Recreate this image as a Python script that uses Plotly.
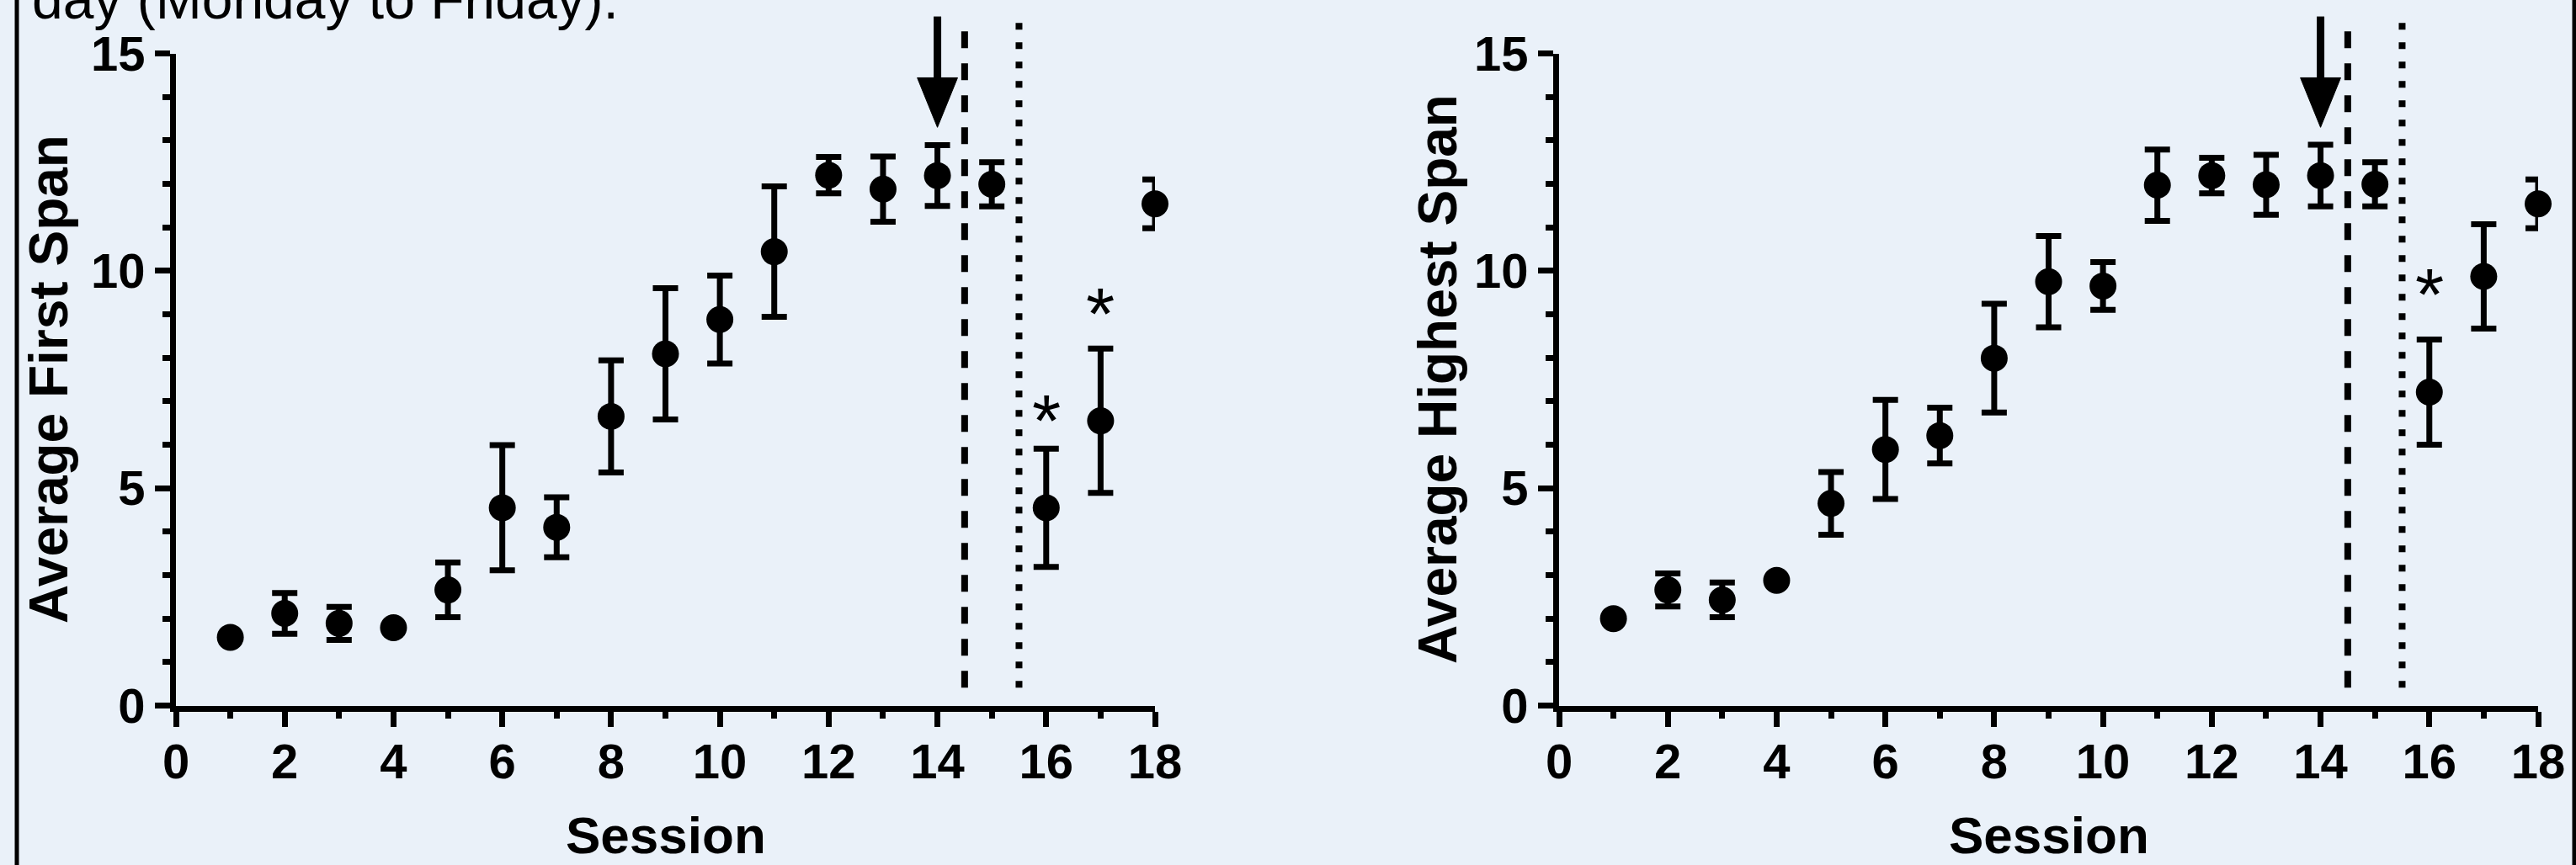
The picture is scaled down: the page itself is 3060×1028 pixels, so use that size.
import plotly.graph_objects as go

# ---------------- data ----------------
sessions = list(range(1, 19))
first_mean = [1.57, 2.12, 1.89, 1.79, 2.66, 4.55, 4.10, 6.65, 8.09, 8.88, 10.44, 12.20, 11.88, 12.19, 11.99, 4.55, 6.55, 11.54]
first_err = [0, 0.47, 0.38, 0, 0.63, 1.44, 0.69, 1.29, 1.51, 1.01, 1.50, 0.42, 0.75, 0.70, 0.51, 1.36, 1.66, 0.56]
highest_mean = [2.00, 2.66, 2.43, 2.88, 4.65, 5.89, 6.21, 7.99, 9.75, 9.65, 11.97, 12.19, 11.98, 12.19, 11.99, 7.21, 9.87, 11.54]
highest_err = [0, 0.38, 0.40, 0, 0.72, 1.14, 0.64, 1.25, 1.05, 0.55, 0.82, 0.41, 0.69, 0.71, 0.51, 1.21, 1.20, 0.56]

x_ticks = [0, 2, 4, 6, 8, 10, 12, 14, 16, 18]
x_minor = [1, 3, 5, 7, 9, 11, 13, 15, 17]
y_ticks = [0, 5, 10, 15]
y_minor = [1, 2, 3, 4, 6, 7, 8, 9, 11, 12, 13, 14]

left_title = "Average First Span"
right_title = "Average Highest Span"
x_title = "Session"
top_text = "day (Monday to Friday)."

dashed_session = 14.5
dotted_session = 15.5
line_span = [0.41, 15.71]          # extent of the vertical reference lines
arrow_session = 14
arrow_span = [15.85, 14.44, 13.3]  # shaft top, head base, tip
left_stars = [(16, 6.88), (17, 9.32)]
right_stars = [(16, 9.78)]

# ---------------- layout constants ----------------
W, H = 3060, 1028
BG = "#EAF1F9"
FONT = "Arial, Liberation Sans, sans-serif"
YMAX = 15

left_dom = [209 / W, 1372 / W]
right_dom = [1852 / W, 3015 / W]
y_dom = [(H - 838.5) / H, (H - 63.5) / H]

fig = go.Figure()

for xa, ya, mean, err in [("x", "y", first_mean, first_err), ("x2", "y2", highest_mean, highest_err)]:
    fig.add_trace(go.Scatter(
        x=sessions, y=mean, xaxis=xa, yaxis=ya, mode="markers",
        marker=dict(size=32, color="black", line=dict(width=0)),
        error_y=dict(type="data", array=err, symmetric=True, thickness=7, width=15, color="black"),
        cliponaxis=False, showlegend=False, hoverinfo="skip",
    ))


def make_xaxis(domain, anchor):
    return dict(
        domain=domain, anchor=anchor, range=[0, 18],
        tickmode="array", tickvals=x_ticks, ticktext=[str(v) for v in x_ticks],
        ticks="outside", ticklen=18, tickwidth=7, tickcolor="black",
        showline=True, linewidth=7, linecolor="black",
        showgrid=False, zeroline=False, ticklabelstandoff=-8,
        tickfont=dict(family=FONT, size=58, color="black", weight="bold"),
        minor=dict(tickmode="array", tickvals=x_minor, ticks="outside", ticklen=8,
                   tickwidth=7, tickcolor="black", showgrid=False),
        fixedrange=True,
    )


def make_yaxis(anchor):
    return dict(
        domain=y_dom, anchor=anchor, range=[0, YMAX],
        tickmode="array", tickvals=y_ticks, ticktext=[str(v) for v in y_ticks],
        ticks="outside", ticklen=18, tickwidth=7, tickcolor="black",
        showline=True, linewidth=7, linecolor="black",
        showgrid=False, zeroline=False,
        tickfont=dict(family=FONT, size=58, color="black", weight="bold"),
        minor=dict(tickmode="array", tickvals=y_minor, ticks="outside", ticklen=9,
                   tickwidth=7, tickcolor="black", showgrid=False),
        fixedrange=True,
    )


shapes = [
    dict(type="line", xref="paper", yref="paper", x0=20 / W, x1=20 / W, y0=-0.01, y1=1.01,
         line=dict(color="black", width=5)),
    dict(type="line", xref="paper", yref="paper", x0=3058 / W, x1=3058 / W, y0=-0.01, y1=1.01,
         line=dict(color="black", width=5)),
]

annotations = []

for xr, yr in [("x", "y"), ("x2", "y2")]:
    ydom = yr + " domain"
    shapes.append(dict(type="line", xref=xr, yref=ydom, x0=dashed_session, x1=dashed_session,
                       y0=line_span[0] / YMAX, y1=line_span[1] / YMAX,
                       line=dict(color="black", width=8, dash="20px,18px")))
    shapes.append(dict(type="line", xref=xr, yref=ydom, x0=dotted_session, x1=dotted_session,
                       y0=line_span[0] / YMAX, y1=line_span[1] / YMAX,
                       line=dict(color="black", width=8, dash="8px,15px")))
    # arrow shaft
    shapes.append(dict(type="line", xref=xr, yref=ydom, x0=arrow_session, x1=arrow_session,
                       y0=arrow_span[0] / YMAX, y1=(arrow_span[1] - 0.1) / YMAX,
                       line=dict(color="black", width=9)))
    # arrow head
    hw = 0.37
    path = "M {a},{b} L {c},{b} L {d},{e} Z".format(
        a=arrow_session - hw, b=arrow_span[1] / YMAX, c=arrow_session + hw,
        d=arrow_session, e=arrow_span[2] / YMAX)
    shapes.append(dict(type="path", xref=xr, yref=ydom, path=path,
                       fillcolor="black", line=dict(color="black", width=1)))

for xr, yr, stars in [("x", "y", left_stars), ("x2", "y2", right_stars)]:
    for sx, sy in stars:
        annotations.append(dict(x=sx, y=sy, xref=xr, yref=yr, text="*", showarrow=False,
                                xanchor="center", yanchor="middle", yshift=-16,
                                font=dict(family=FONT, size=88, color="black")))

# axis titles
for px, txt in [(58, left_title), (1708, right_title)]:
    annotations.append(dict(x=px / W, y=(y_dom[0] + y_dom[1]) / 2, xref="paper", yref="paper",
                            text=txt, textangle=-90, showarrow=False,
                            xanchor="center", yanchor="middle",
                            font=dict(family=FONT, size=64, color="black", weight="bold")))
for dom in [left_dom, right_dom]:
    annotations.append(dict(x=(dom[0] + dom[1]) / 2, y=(H - 992) / H, xref="paper", yref="paper",
                            text=x_title, showarrow=False, xanchor="center", yanchor="middle",
                            font=dict(family=FONT, size=62, color="black", weight="bold")))

annotations.append(dict(x=36 / W, y=1.001, xref="paper", yref="paper", text=top_text,
                        showarrow=False, xanchor="left", yanchor="middle",
                        font=dict(family=FONT, size=66, color="black")))

fig.update_layout(
    template="none",
    width=W, height=H, autosize=False,
    margin=dict(l=0, r=0, t=0, b=0, pad=0),
    paper_bgcolor=BG, plot_bgcolor=BG,
    xaxis=make_xaxis(left_dom, "y"),
    yaxis=make_yaxis("x"),
    xaxis2=make_xaxis(right_dom, "y2"),
    yaxis2=make_yaxis("x2"),
    shapes=shapes,
    annotations=annotations,
    showlegend=False,
)

fig.write_html(
    "out.html",
    config={"displayModeBar": False},
    post_script="document.body.style.margin='0px';document.body.style.padding='0px';document.body.style.overflow='hidden';",
)
